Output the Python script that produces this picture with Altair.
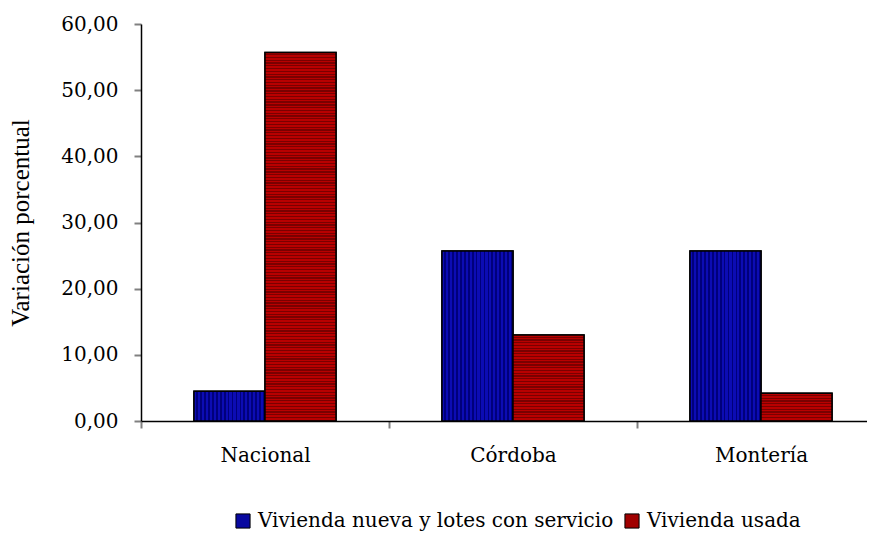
import altair as alt
import pandas as pd

categorias = ["Nacional", "Córdoba", "Montería"]
series = ["Vivienda nueva y lotes con servicio", "Vivienda usada"]
nueva = [4.5, 25.7, 25.7]
usada = [55.7, 13.0, 4.2]
y_ticks = [0, 10, 20, 30, 40, 50, 60]

rows = []
for c, a, b in zip(categorias, nueva, usada):
    rows.append({"cat": c, "serie": series[0], "valor": a})
    rows.append({"cat": c, "serie": series[1], "valor": b})
df = pd.DataFrame(rows)

W, H = 726, 397
XRANGE = 744  # band range runs past the right edge, as in the original
YMAX = 60

BLUE_L, BLUE_D = "#0c0cb4", "#00007c"
RED_L, RED_D = "#b80000", "#7a0000"


def stripes(n, light, dark, vertical):
    stops = []
    for i in range(n):
        a = i / n
        m = (i + 0.55) / n
        b = (i + 1) / n
        stops += [
            {"offset": a, "color": light},
            {"offset": m, "color": light},
            {"offset": m, "color": dark},
            {"offset": min(b, 1.0), "color": dark},
        ]
    g = {"gradient": "linear", "stops": stops}
    if vertical:
        g.update({"x1": 0, "y1": 0, "x2": 1, "y2": 0})
    else:
        g.update({"x1": 0, "y1": 0, "x2": 0, "y2": 1})
    return g


x_enc = alt.X(
    "cat:N",
    sort=categorias,
    scale=alt.Scale(paddingInner=0, paddingOuter=0, range=[0, XRANGE]),
    axis=alt.Axis(
        title=None,
        labelAngle=0,
        tickBand="extent",
        labelFont="DejaVu Serif",
        labelFontSize=20,
        labelColor="black",
        labelPadding=17,
        tickSize=7,
        tickWidth=2,
        tickColor="#808080",
        domainColor="black",
        domainWidth=1.5,
    ),
)
xo_enc = alt.XOffset(
    "serie:N", sort=series, scale=alt.Scale(paddingInner=0, paddingOuter=0.746)
)
y_enc = alt.Y(
    "valor:Q",
    scale=alt.Scale(domain=[0, YMAX], nice=False),
    axis=alt.Axis(
        values=y_ticks,
        title="Variación porcentual",
        titleFont="Liberation Serif",
        titleFontSize=25,
        titleFontWeight="normal",
        titleColor="black",
        titlePadding=27,
        labelExpr="replace(format(datum.value, '.2f'), '.', ',')",
        labelFont="DejaVu Serif",
        labelFontSize=20,
        labelColor="black",
        labelPadding=16,
        tickSize=7,
        tickWidth=2,
        tickColor="#808080",
        domainColor="black",
        domainWidth=1.5,
        grid=False,
    ),
)

base = alt.Chart(df).mark_bar(stroke="black", strokeWidth=1.5).encode(
    x=x_enc,
    xOffset=xo_enc,
    y=y_enc,
    color=alt.Color(
        "serie:N",
        sort=series,
        scale=alt.Scale(domain=series, range=["#0808a0", "#a00000"]),
        legend=alt.Legend(
            title=None,
            orient="none",
            legendX=92,
            legendY=487,
            direction="horizontal",
            symbolType="square",
            symbolSize=200,
            symbolStrokeColor="black",
            symbolStrokeWidth=1,
            symbolOpacity=1,
            labelFont="DejaVu Serif",
            labelFontSize=20,
            labelColor="black",
            labelOffset=5,
            labelLimit=0,
            columnPadding=8,
        ),
    ),
)

layers = [base]
for c, a, b in zip(categorias, nueva, usada):
    for s, v in ((series[0], a), (series[1], b)):
        if s == series[0]:
            fill = stripes(18, BLUE_L, BLUE_D, True)
        else:
            n = max(1, round(v * H / YMAX / 2.8))
            fill = stripes(n, RED_L, RED_D, False)
        layers.append(
            alt.Chart(df)
            .transform_filter((alt.datum.cat == c) & (alt.datum.serie == s))
            .mark_bar(fill=fill, stroke="black", strokeWidth=1.5)
            .encode(x=x_enc, xOffset=xo_enc, y=y_enc)
        )

chart = (
    alt.layer(*layers)
    .properties(
        width=W,
        height=H,
        background="white",
        autosize=alt.AutoSizeParams(type="none"),
        padding={"left": 133, "top": 16, "right": 0, "bottom": 112},
    )
    .configure_view(strokeWidth=0, stroke="transparent")
)

chart.save("out.html", embed_options={"renderer": "svg", "actions": False})
